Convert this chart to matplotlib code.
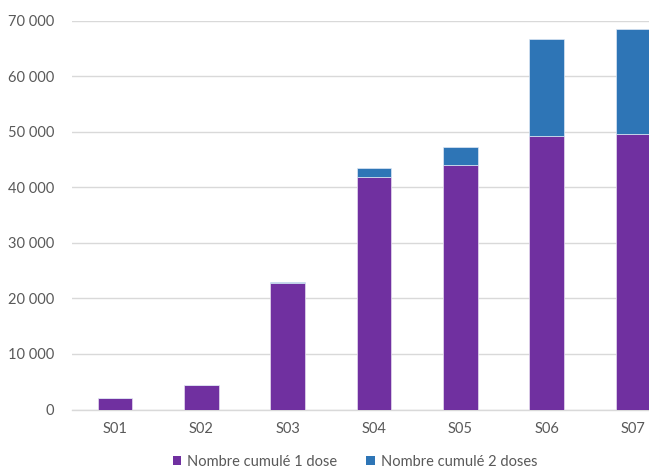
import matplotlib
matplotlib.use("Agg")
import matplotlib.pyplot as plt
from matplotlib.patches import Patch
from matplotlib.ticker import FuncFormatter

weeks = ["S01", "S02", "S03", "S04", "S05", "S06", "S07"]
dose1 = [2100, 4400, 22700, 41800, 44000, 49200, 49500]
dose2 = [0, 0, 250, 1600, 3200, 17400, 19050]
series_labels = ["Nombre cumulé 1 dose", "Nombre cumulé 2 doses"]
y_ticks = [0, 10000, 20000, 30000, 40000, 50000, 60000, 70000]

purple = "#7030A0"
blue = "#2E75B6"
grid_col = "#D9D9D9"
text_col = "#595959"

plt.rcParams["font.family"] = ["Lato", "DejaVu Sans"]

W, H = 649, 472
fig = plt.figure(figsize=(W / 100, H / 100), dpi=100)

left_px, right_px = 72, W
bottom_px, top_px = 409.5, 20.5
ax = fig.add_axes([left_px / W, (H - bottom_px) / H,
                   (right_px - left_px) / W, (bottom_px - top_px) / H])

x = list(range(len(weeks)))
ax.bar(x, dose1, width=0.4, color=purple, edgecolor="#E6DDF0", linewidth=0.5, zorder=3)
ax.bar(x, dose2, width=0.4, bottom=dose1, color=blue, edgecolor="#DDE8F4", linewidth=0.5, zorder=3)

step_px = 86.3
ax.set_xlim(-0.5, (right_px - 115) / step_px)
ax.set_ylim(0, 70000)
ax.set_yticks(y_ticks)
ax.yaxis.set_major_formatter(FuncFormatter(lambda v, p: f"{int(v):,}".replace(",", " ")))
ax.set_xticks(x)
ax.set_xticklabels(weeks)

ax.grid(axis="y", color=grid_col, linewidth=1, zorder=0)
ax.set_axisbelow(True)
for s in ["top", "right", "left"]:
    ax.spines[s].set_visible(False)
ax.spines["bottom"].set_color(grid_col)
ax.spines["bottom"].set_linewidth(1)
ax.tick_params(axis="both", length=0, labelsize=10.5, labelcolor=text_col)
ax.tick_params(axis="y", pad=13)
ax.tick_params(axis="x", pad=9)
for t in ax.get_yticklabels() + ax.get_xticklabels():
    t.set_clip_on(False)

handles = [Patch(facecolor=purple), Patch(facecolor=blue)]
fig.legend(handles, series_labels, loc="center", ncol=2,
           bbox_to_anchor=(355 / W, (H - 462) / H), frameon=False,
           fontsize=10.5, labelcolor=text_col, handlelength=0.6, handleheight=0.6,
           handletextpad=0.4, columnspacing=2.0, borderpad=0.1)

fig.savefig("out.png", dpi=100)
